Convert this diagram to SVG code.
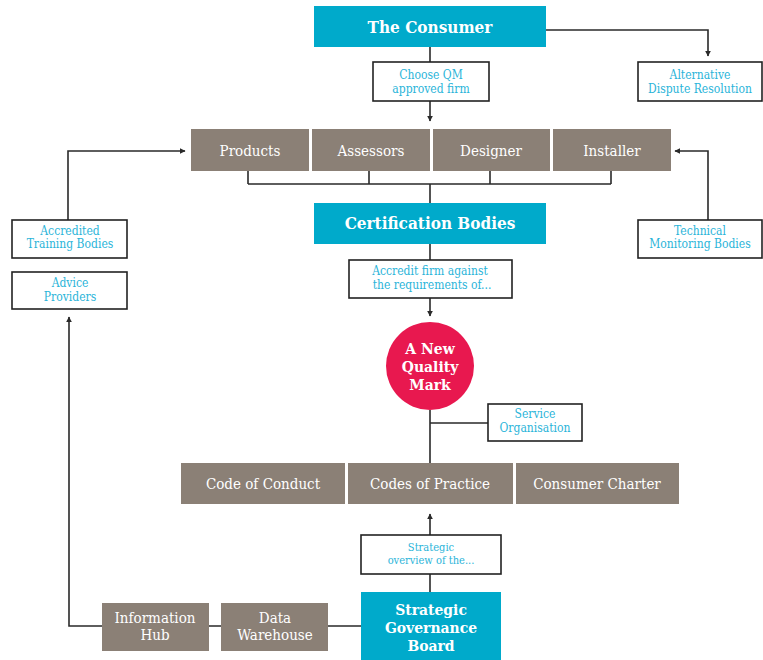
<svg xmlns="http://www.w3.org/2000/svg" width="763" height="660" viewBox="0 0 763 660">
<style>
.teal{fill:#00aacb}
.grey{fill:#8b8076}
.wbox{fill:#fff;stroke:#222;stroke-width:1.6}
.big{font-family:"DejaVu Serif","Liberation Serif",serif;font-stretch:condensed;font-weight:bold;font-size:17px;fill:#fff;text-anchor:middle}
.big2{font-family:"DejaVu Serif","Liberation Serif",serif;font-stretch:condensed;font-weight:bold;font-size:15.5px;fill:#fff;text-anchor:middle}
.mid{font-family:"DejaVu Serif","Liberation Serif",serif;font-stretch:condensed;font-size:15px;fill:#fff;text-anchor:middle}
.sm{font-family:"DejaVu Serif","Liberation Serif",serif;font-stretch:condensed;font-size:12px;fill:#2ab4d9;text-anchor:middle}
.ln{fill:none;stroke:#2a2a2a;stroke-width:1.6}
</style>
<defs>
<marker id="ah" viewBox="0 0 10 10" refX="9" refY="5" markerWidth="6" markerHeight="6" orient="auto" markerUnits="userSpaceOnUse">
<path d="M0 0 L10 5 L0 10 z" fill="#2a2a2a"/>
</marker>
</defs>
<rect width="763" height="660" fill="#fff"/>
<g id="connectors">
<path class="ln" d="M546 30 H708 V56" marker-end="url(#ah)"/>
<path class="ln" d="M430 47 V62"/>
<path class="ln" d="M430 101 V121" marker-end="url(#ah)"/>
<path class="ln" d="M248 171 V184 M369 171 V184 M490 171 V184 M611 171 V184 M248 184 H611 M430 184 V203"/>
<path class="ln" d="M68 220 V151 H185" marker-end="url(#ah)"/>
<path class="ln" d="M708 220 V151 H675" marker-end="url(#ah)"/>
<path class="ln" d="M430 244 V260"/>
<path class="ln" d="M430 298 V316" marker-end="url(#ah)"/>
<path class="ln" d="M430 410 V463 M430 423 H488"/>
<path class="ln" d="M430 592 V574"/>
<path class="ln" d="M430 535 V514" marker-end="url(#ah)"/>
<path class="ln" d="M328 626 H361 M209 626 H221"/>
<path class="ln" d="M102 626 H69 V317" marker-end="url(#ah)"/>
</g>
<g id="consumer"><rect class="teal" x="314" y="6" width="232" height="41"/><text class="big" x="430" y="33">The Consumer</text></g>
<g id="choose-qm"><rect class="wbox" x="373" y="62" width="116" height="39"/><text class="sm" x="431" y="79">Choose QM</text><text class="sm" x="431" y="93">approved firm</text></g>
<g id="adr"><rect class="wbox" x="638" y="62" width="124" height="39"/><text class="sm" x="700" y="79">Alternative</text><text class="sm" x="700" y="93">Dispute Resolution</text></g>
<g id="products"><rect class="grey" x="191" y="129" width="118" height="42"/><text class="mid" x="250" y="156">Products</text></g>
<g id="assessors"><rect class="grey" x="312" y="129" width="118" height="42"/><text class="mid" x="371" y="156">Assessors</text></g>
<g id="designer"><rect class="grey" x="433" y="129" width="117" height="42"/><text class="mid" x="491" y="156">Designer</text></g>
<g id="installer"><rect class="grey" x="553" y="129" width="118" height="42"/><text class="mid" x="612" y="156">Installer</text></g>
<g id="certification"><rect class="teal" x="314" y="203" width="232" height="41"/><text class="big" x="430" y="229">Certification Bodies</text></g>
<g id="training"><rect class="wbox" x="12" y="220" width="115" height="38"/><text class="sm" x="70" y="235">Accredited</text><text class="sm" x="70" y="248">Training Bodies</text></g>
<g id="advice"><rect class="wbox" x="12" y="272" width="115" height="37"/><text class="sm" x="70" y="287">Advice</text><text class="sm" x="70" y="301">Providers</text></g>
<g id="technical"><rect class="wbox" x="638" y="220" width="124" height="38"/><text class="sm" x="700" y="235">Technical</text><text class="sm" x="700" y="248">Monitoring Bodies</text></g>
<g id="accredit"><rect class="wbox" x="349" y="260" width="163" height="38"/><text class="sm" x="430" y="275">Accredit firm against</text><text class="sm" x="432" y="289">the requirements of...</text></g>
<g id="quality-mark"><circle cx="430" cy="366" r="44" fill="#e8184f"/><text class="big2" x="430" y="354">A New</text><text class="big2" x="430" y="372">Quality</text><text class="big2" x="430" y="390">Mark</text></g>
<g id="service"><rect class="wbox" x="488" y="404" width="94" height="37"/><text class="sm" x="535" y="418">Service</text><text class="sm" x="535" y="432">Organisation</text></g>
<g id="conduct"><rect class="grey" x="181" y="463" width="164" height="41"/><text class="mid" x="263" y="489">Code of Conduct</text></g>
<g id="practice"><rect class="grey" x="348" y="463" width="165" height="41"/><text class="mid" x="430" y="489">Codes of Practice</text></g>
<g id="charter"><rect class="grey" x="516" y="463" width="163" height="41"/><text class="mid" x="597" y="489">Consumer Charter</text></g>
<g id="overview"><rect class="wbox" x="361" y="535" width="140" height="39"/><text class="sm" x="431" y="551" style="font-size:11px">Strategic</text><text class="sm" x="431" y="564" style="font-size:11px">overview of the...</text></g>
<g id="governance"><rect class="teal" x="361" y="592" width="140" height="68"/><text class="big2" x="431" y="615">Strategic</text><text class="big2" x="431" y="633">Governance</text><text class="big2" x="431" y="651">Board</text></g>
<g id="warehouse"><rect class="grey" x="221" y="603" width="107" height="48"/><text class="mid" x="275" y="623">Data</text><text class="mid" x="275" y="640">Warehouse</text></g>
<g id="info-hub"><rect class="grey" x="102" y="603" width="107" height="48"/><text class="mid" x="155" y="623">Information</text><text class="mid" x="155" y="640">Hub</text></g>
</svg>
